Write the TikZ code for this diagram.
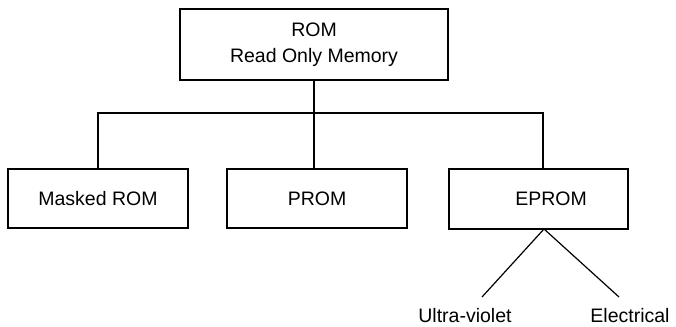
\documentclass[tikz,border=0pt]{standalone}
\usepackage{fontspec}
\setmainfont{Liberation Sans}
\begin{document}
\begin{tikzpicture}[x=1pt,y=-1pt,
  box/.style={draw,line width=1.2pt,inner sep=0pt,minimum height=59pt,minimum width=180pt,font=\fontsize{19.5}{26}\selectfont},
  lbl/.style={inner sep=0pt,anchor=base,font=\fontsize{19.5}{26}\selectfont},
  conn/.style={line width=1.2pt}]
\useasboundingbox (0,0) rectangle (676,326);
\node[box,minimum width=268pt,minimum height=71pt,align=center] (rom) at (314,44.5) {ROM\\Read Only Memory};
\node[box] (masked) at (98,198.5) {Masked ROM};
\node[box] (prom) at (317,198.5) {PROM};
\node[box,minimum width=179pt,minimum height=60pt] (eprom) at (538.5,199) {\hspace*{25pt}EPROM};
\coordinate (bus) at (314,113);
\coordinate (etop) at (543,169);
\coordinate (ebot) at (544,229);
\coordinate (uvend) at (482,297);
\coordinate (elend) at (619,297);
\node[lbl] (uv) at (465,322) {Ultra-violet};
\node[lbl] (el) at (630,322) {Electrical};
\draw[conn] (rom.south) -- (bus);
\draw[conn] (masked.north) |- (bus) -| (etop);
\draw[conn] (bus) -- (bus |- prom.north);
\draw[conn] (ebot) -- (uvend);
\draw[conn] (ebot) -- (elend);
\end{tikzpicture}
\end{document}
